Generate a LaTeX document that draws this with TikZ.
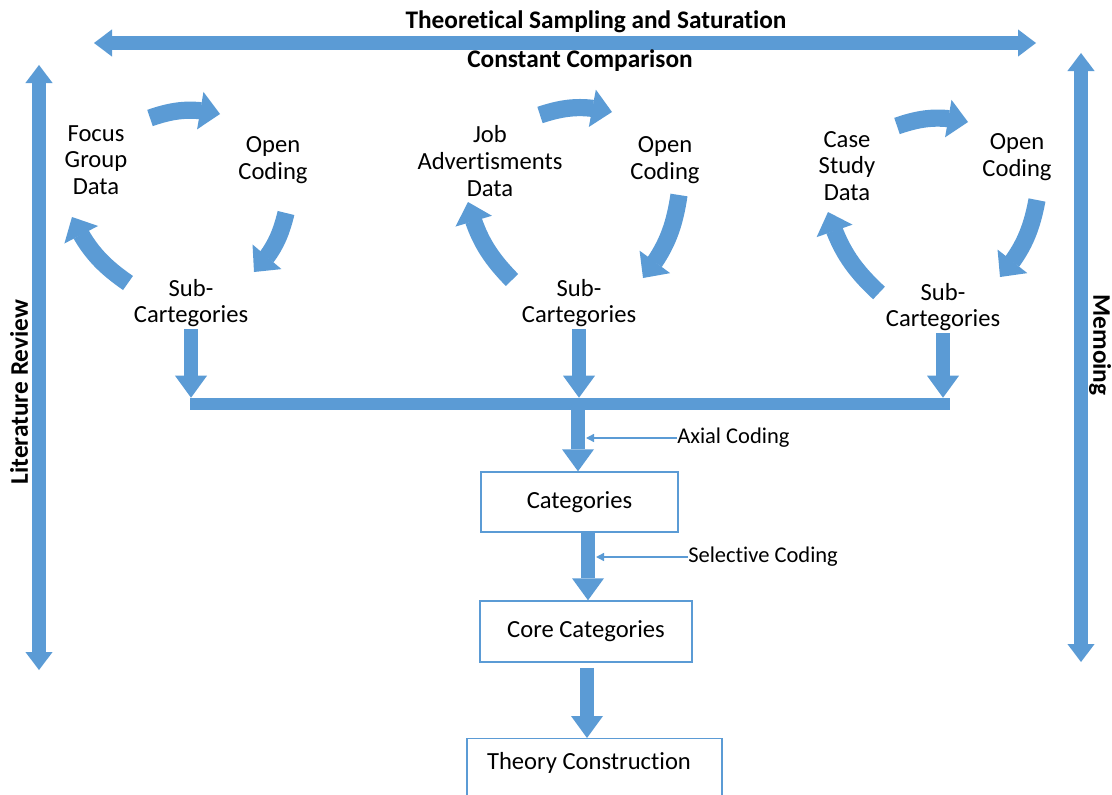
\documentclass[tikz,border=0pt]{standalone}
\usepackage{fontspec}
\setmainfont{Carlito}[Ligatures=NoCommon]
\usepackage{tikz}
\usetikzlibrary{arrows.meta,bending,positioning,calc}

\definecolor{arrblue}{RGB}{91,155,213}

\tikzset{
  txt/.style={align=center, inner sep=0pt, font=\fontsize{17.5}{19}\selectfont},
  ttl/.style={inner sep=0pt, font=\bfseries\fontsize{18}{21}\selectfont},
  lbl/.style={anchor=west, inner sep=0pt, font=\fontsize{16}{19}\selectfont},
  box/.style={draw=arrblue, line width=1pt, fill=white, inner sep=0pt},
  cyc/.style={arrblue, line width=0.43cm, -{Triangle[length=0.5cm,width=0.95cm,line width=0pt]}},
  dnarr/.style={arrblue, line width=0.37cm, -{Triangle[length=0.55cm,width=0.8cm,line width=0pt]}},
  dbl/.style={arrblue, line width=0.33cm, {Triangle[length=0.45cm,width=0.68cm,line width=0pt]}-{Triangle[length=0.45cm,width=0.68cm,line width=0pt]}},
  thinarr/.style={arrblue, line width=1pt, -{Triangle[length=0.2cm,width=0.2cm]}}
}

\begin{document}
\begin{tikzpicture}[x=0.025cm,y=-0.025cm]
\useasboundingbox (0,0) rectangle (1112,795);

% frame arrows
\coordinate (tl) at (94,43);
\coordinate (tr) at (1036,43);
\coordinate (lt) at (39,65);
\coordinate (lb) at (39,670);
\coordinate (rt) at (1081,53);
\coordinate (rb) at (1081,662);
\draw[dbl] (tl) -- (tr);
\draw[dbl] (lt) -- (lb);
\draw[dbl] (rt) -- (rb);

\node[ttl] (tss) at (596,22) {Theoretical Sampling and Saturation};
\node[ttl] (ccmp) at (580,61) {Constant Comparison};
\node[ttl, rotate=90] (litrev) at (19,392) {Literature Review};
\node[ttl, rotate=-90] (memo) at (1100,345) {Memoing};

% three coding cycles
\node[txt] (fg) at (96,160) {Focus\\Group\\Data};
\node[txt] (oc1) at (273,160) {Open\\Coding};
\node[txt] (sc1) at (191,303) {Sub-\\Cartegories};

\node[txt] (ja) at (490,161) {Job\\Advertisments\\Data};
\node[txt] (oc2) at (665,160) {Open\\Coding};
\node[txt] (sc2) at (579,303) {Sub-\\Cartegories};

\node[txt] (cs) at (847,166) {Case\\Study\\Data};
\node[txt] (oc3) at (1017,157) {Open\\Coding};
\node[txt] (sc3) at (943,307) {Sub-\\Cartegories};

\coordinate (a1) at (150,118);
\coordinate (b1) at (220,114);
\coordinate (c1) at (286,213);
\coordinate (d1) at (254,272);
\coordinate (e1) at (128,283);
\coordinate (f1) at (72,217);
\draw[cyc] (a1) to[bend left=16] (b1);
\draw[cyc] (c1) to[bend left=15] (d1);
\draw[cyc] (e1) to[bend left=15] (f1);

\coordinate (a2) at (540,115);
\coordinate (b2) at (612,112);
\coordinate (c2) at (679,195);
\coordinate (d2) at (643,278);
\coordinate (e2) at (512,280);
\coordinate (f2) at (468,202);
\draw[cyc] (a2) to[bend left=16] (b2);
\draw[cyc] (c2) to[bend left=15] (d2);
\draw[cyc] (e2) to[bend left=15] (f2);

\coordinate (a3) at (897,126);
\coordinate (b3) at (968,122);
\coordinate (c3) at (1037,200);
\coordinate (d3) at (1000,277);
\coordinate (e3) at (879,293);
\coordinate (f3) at (828,212);
\draw[cyc] (a3) to[bend left=16] (b3);
\draw[cyc] (c3) to[bend left=15] (d3);
\draw[cyc] (e3) to[bend left=15] (f3);

% merge bar and categories
\node[fill=arrblue, inner sep=0pt, minimum width=19cm, minimum height=0.3cm] (bar) at (570,404) {};

\draw[dnarr] (sc1.south) ++(0,2) -- (sc1.south |- bar.north);
\draw[dnarr] (sc2.south) ++(0,2) -- (sc2.south |- bar.north);
\draw[dnarr] (sc3.south) ++(0,2) -- (sc3.south |- bar.north);

\node[box, minimum width=4.925cm, minimum height=1.5cm, txt] (cat) at (579.5,502) {Categories};
\node[box, minimum width=5.3cm, minimum height=1.525cm, txt] (core) at (586,631.5) {Core Categories};
\node[box, minimum width=6.375cm, minimum height=2.2cm, anchor=north] (theory) at (594.5,738) {};
\node[txt] (thtxt) at (589,763) {Theory Construction};

\node[lbl] (axial) at (677,438) {Axial Coding};
\node[lbl] (selc) at (688,557) {Selective Coding};

\draw[dnarr] (bar.south -| 578,0) -- (cat.north -| 578,0);
\draw[dnarr] (cat.south -| 588,0) -- (core.north -| 588,0);
\draw[dnarr, shorten <=0.13cm] (core.south -| 587,0) -- (theory.north -| 587,0);

\draw[thinarr] (axial.west) -- (axial.west -| 586,0);
\draw[thinarr] (selc.west) -- (selc.west -| 596,0);

\end{tikzpicture}
\end{document}
